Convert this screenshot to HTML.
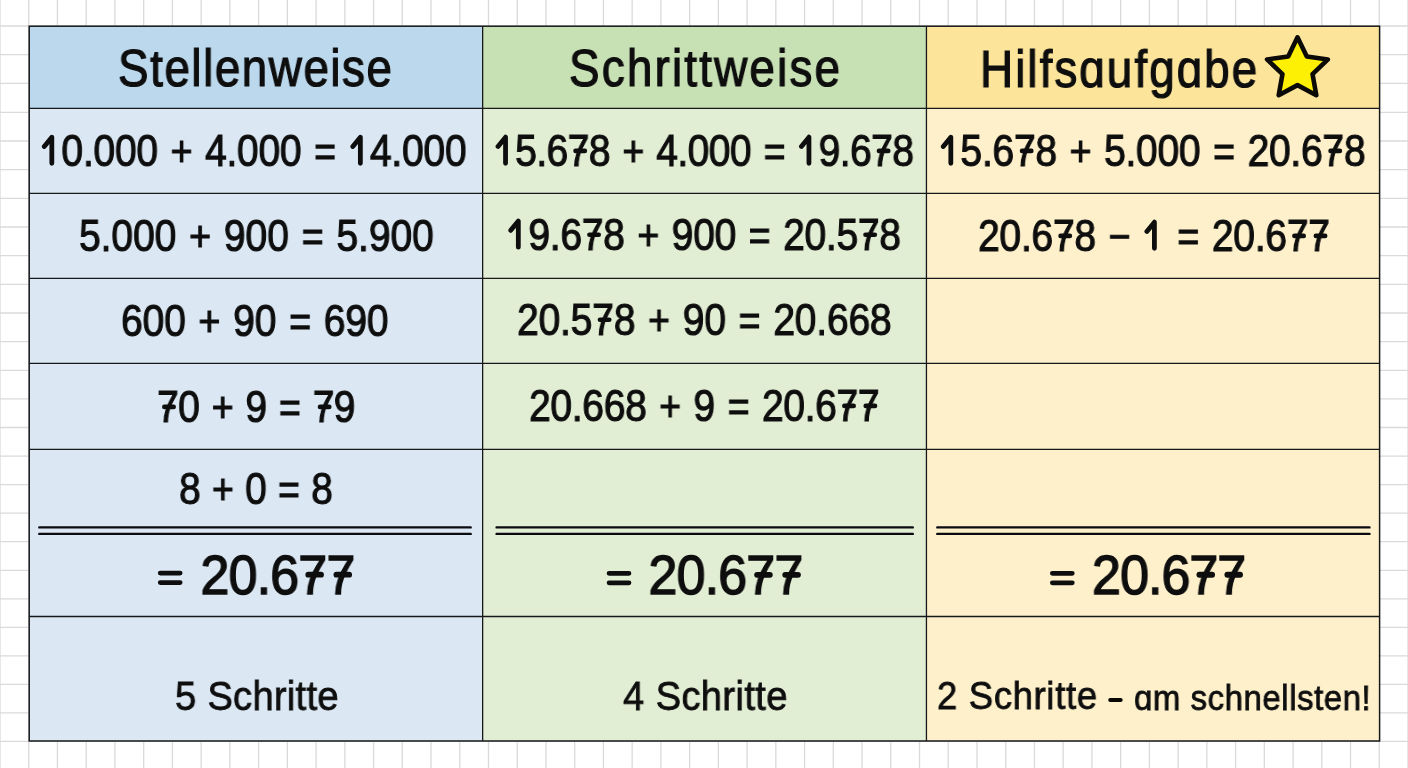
<!DOCTYPE html>
<html><head><meta charset="utf-8"><title>Rechenwege</title>
<style>
html,body{margin:0;padding:0;width:1408px;height:768px;overflow:hidden;background:#fff}
.t{position:absolute;white-space:nowrap;font-family:"Liberation Sans",sans-serif;line-height:1;color:#0e0e0e;transform-origin:0 0;will-change:transform}
.h{color:transparent;-webkit-text-stroke-color:transparent}
</style></head><body>
<svg width="1408" height="768" viewBox="0 0 1408 768" style="position:absolute;left:0;top:0">
<path d="M0.00 0V768 M28.73 0V768 M57.47 0V768 M86.20 0V768 M114.94 0V768 M143.67 0V768 M172.41 0V768 M201.14 0V768 M229.88 0V768 M258.61 0V768 M287.35 0V768 M316.08 0V768 M344.82 0V768 M373.55 0V768 M402.29 0V768 M431.02 0V768 M459.76 0V768 M488.49 0V768 M517.22 0V768 M545.96 0V768 M574.69 0V768 M603.43 0V768 M632.16 0V768 M660.90 0V768 M689.63 0V768 M718.37 0V768 M747.10 0V768 M775.84 0V768 M804.57 0V768 M833.31 0V768 M862.04 0V768 M890.78 0V768 M919.51 0V768 M948.24 0V768 M976.98 0V768 M1005.71 0V768 M1034.45 0V768 M1063.18 0V768 M1091.92 0V768 M1120.65 0V768 M1149.39 0V768 M1178.12 0V768 M1206.86 0V768 M1235.59 0V768 M1264.33 0V768 M1293.06 0V768 M1321.80 0V768 M1350.53 0V768 M1379.27 0V768 M1408.00 0V768 M0 26.00H1408 M0 54.70H1408 M0 83.30H1408 M0 112.30H1408 M0 141.00H1408 M0 169.60H1408 M0 198.30H1408 M0 227.00H1408 M0 255.70H1408 M0 284.40H1408 M0 313.00H1408 M0 341.70H1408 M0 370.30H1408 M0 398.90H1408 M0 427.50H1408 M0 456.20H1408 M0 484.70H1408 M0 513.10H1408 M0 541.70H1408 M0 570.30H1408 M0 598.90H1408 M0 627.40H1408 M0 655.90H1408 M0 684.40H1408 M0 712.80H1408 M0 741.30H1408" stroke="#dadada" stroke-width="1.3" fill="none"/>
<rect x="29.2" y="26.2" width="453.45" height="82.14999999999999" fill="#bcd8ed"/>
<rect x="482.65" y="26.2" width="443.80000000000007" height="82.14999999999999" fill="#c7e0b4"/>
<rect x="926.45" y="26.2" width="453.14999999999986" height="82.14999999999999" fill="#fce59b"/>
<rect x="29.2" y="108.35" width="453.45" height="632.65" fill="#dbe8f4"/>
<rect x="482.65" y="108.35" width="443.80000000000007" height="632.65" fill="#e2eed4"/>
<rect x="926.45" y="108.35" width="453.14999999999986" height="632.65" fill="#fdf0cb"/>
<path d="M29.2 108.35H1379.6 M29.2 193.4H1379.6 M29.2 278.4H1379.6 M29.2 363.45H1379.6 M29.2 449.3H1379.6 M29.2 616.5H1379.6 M482.65 26.2V741.0 M926.45 26.2V741.0" stroke="#16181a" stroke-width="1.3" fill="none"/>
<rect x="29.2" y="26.2" width="1350.3999999999999" height="714.8" fill="none" stroke="#16181a" stroke-width="1.5"/>
<path d="M39.3 527.4H470.7M39.3 533.9H470.7 M496.6 527.4H912.8M496.6 533.9H912.8 M937.3 527.4H1369.5M937.3 533.9H1369.5" stroke="#0a0a10" stroke-width="2.4" stroke-linecap="round" fill="none"/>
<path d="M1110.2 699.9H1120.7" stroke="#0a0806" stroke-width="4" stroke-linecap="round"/>
<g stroke="#0e0e0e" stroke-linecap="round" fill="none"><path d="M575.58 150.88H584.80" stroke-width="4.7"/><path d="M878.99 150.88H888.21" stroke-width="4.7"/><path d="M1022.07 150.90H1031.29" stroke-width="4.7"/><path d="M1330.60 150.90H1339.82" stroke-width="4.7"/><path d="M589.46 234.74H598.68" stroke-width="4.7"/><path d="M865.54 234.74H874.76" stroke-width="4.7"/><path d="M1060.60 235.88H1069.82" stroke-width="4.7"/><path d="M1294.44 235.88H1303.66" stroke-width="4.7"/><path d="M1315.89 235.88H1325.11" stroke-width="4.7"/><path d="M599.98 319.74H609.21" stroke-width="4.7"/><path d="M164.40 406.93H173.63" stroke-width="4.7"/><path d="M320.04 406.93H329.26" stroke-width="4.7"/><path d="M844.39 405.88H853.62" stroke-width="4.7"/><path d="M865.77 405.88H874.99" stroke-width="4.7"/><path d="M308.28 574.71H321.04" stroke-width="5.8"/><path d="M336.42 574.71H349.17" stroke-width="5.8"/><path d="M757.10 574.78H769.85" stroke-width="5.8"/><path d="M785.23 574.78H797.98" stroke-width="5.8"/><path d="M1199.38 574.75H1212.13" stroke-width="5.8"/><path d="M1227.33 574.75H1240.09" stroke-width="5.8"/></g>
<path d="M44.28 146.52L51.82 137.17V163.33 M352.82 146.52L360.36 137.17V163.33 M498.00 146.50L505.54 137.16V163.31 M801.41 146.50L808.95 137.16V163.31 M943.28 146.52L950.82 137.17V163.33 M510.78 230.36L518.32 221.01V247.17 M1146.87 231.50L1154.41 222.16V248.31" stroke="#0e0e0e" stroke-width="4.8" stroke-linecap="round" stroke-linejoin="round" fill="none"/>
<path d="M160.25 573.10H180.15 M160.25 582.60H180.15 M609.07 573.30H628.97 M609.07 582.80H628.97 M1052.36 573.30H1072.26 M1052.36 582.80H1072.26" stroke="#0e0e0e" stroke-width="4.8" stroke-linecap="round" fill="none"/>
<polygon points="1297.50,37.30 1306.79,56.52 1327.93,59.41 1312.53,74.18 1316.31,95.19 1297.50,85.10 1278.69,95.19 1282.47,74.18 1267.07,59.41 1288.21,56.52" fill="#fdf005" stroke="#0c0a06" stroke-width="4.6" stroke-linejoin="round"/>
</svg>
<div class="t" id="h1" style="left:117.80px;top:41.65px;font-size:52.08px;letter-spacing:1.723px;transform:scale(0.8800,1);-webkit-text-stroke:1.2px #0e0e0e;">Stellenweise</div>
<div class="t" id="h2" style="left:568.66px;top:41.64px;font-size:52.08px;letter-spacing:2.480px;transform:scale(0.8800,1);-webkit-text-stroke:1.2px #0e0e0e;">Schrittweise</div>
<div class="t" id="h3" style="left:980.12px;top:42.67px;font-size:52.08px;letter-spacing:2.314px;transform:scale(0.8800,1);-webkit-text-stroke:1.2px #0e0e0e;">Hilfsɑufɡɑbe</div>
<div class="t" id="r1c1" style="left:40.31px;top:128.68px;font-size:43.89px;letter-spacing:-0.314px;word-spacing:2.50px;transform:scale(0.8900,1);-webkit-text-stroke:1.1px #0e0e0e;"><span class="h">1</span>0.000 <span class="o" style="font-size:42.14px">+</span> 4.000 <span class="o" style="font-size:42.14px">=</span> <span class="h">1</span>4.000</div>
<div class="t" id="r1c2" style="left:494.03px;top:128.66px;font-size:43.89px;letter-spacing:-0.652px;word-spacing:2.50px;transform:scale(0.8900,1);-webkit-text-stroke:1.1px #0e0e0e;"><span class="h">1</span>5.678 <span class="o" style="font-size:42.14px">+</span> 4.000 <span class="o" style="font-size:42.14px">=</span> <span class="h">1</span>9.678</div>
<div class="t" id="r1c3" style="left:939.31px;top:128.68px;font-size:43.89px;letter-spacing:-0.313px;word-spacing:2.50px;transform:scale(0.8900,1);-webkit-text-stroke:1.1px #0e0e0e;"><span class="h">1</span>5.678 <span class="o" style="font-size:42.14px">+</span> 5.000 <span class="o" style="font-size:42.14px">=</span> 20.678</div>
<div class="t" id="r2c1" style="left:78.52px;top:213.67px;font-size:43.89px;letter-spacing:-0.119px;word-spacing:2.50px;transform:scale(0.8900,1);-webkit-text-stroke:1.1px #0e0e0e;">5.000 <span class="o" style="font-size:42.14px">+</span> 900 <span class="o" style="font-size:42.14px">=</span> 5.900</div>
<div class="t" id="r2c2" style="left:506.80px;top:212.52px;font-size:43.89px;letter-spacing:-0.345px;word-spacing:2.50px;transform:scale(0.8900,1);-webkit-text-stroke:1.1px #0e0e0e;"><span class="h">1</span>9.678 <span class="o" style="font-size:42.14px">+</span> 900 <span class="o" style="font-size:42.14px">=</span> 20.578</div>
<div class="t" id="r2c3" style="left:977.78px;top:213.67px;font-size:43.89px;letter-spacing:-0.297px;word-spacing:2.50px;transform:scale(0.8900,1);-webkit-text-stroke:1.1px #0e0e0e;">20.678 <span class="o" style="font-size:42.14px">−</span> <span class="h">1</span> <span class="o" style="font-size:42.14px">=</span> 20.677</div>
<div class="t" id="r3c1" style="left:121.28px;top:298.50px;font-size:43.89px;letter-spacing:-0.200px;word-spacing:2.50px;transform:scale(0.8900,1);-webkit-text-stroke:1.1px #0e0e0e;">600 <span class="o" style="font-size:42.14px">+</span> 90 <span class="o" style="font-size:42.14px">=</span> 690</div>
<div class="t" id="r3c2" style="left:516.90px;top:297.52px;font-size:43.89px;letter-spacing:-0.222px;word-spacing:2.50px;transform:scale(0.8900,1);-webkit-text-stroke:1.1px #0e0e0e;">20.578 <span class="o" style="font-size:42.14px">+</span> 90 <span class="o" style="font-size:42.14px">=</span> 20.668</div>
<div class="t" id="r4c1" style="left:156.53px;top:384.71px;font-size:43.89px;letter-spacing:-0.701px;word-spacing:2.50px;transform:scale(0.8900,1);-webkit-text-stroke:1.1px #0e0e0e;">70 <span class="o" style="font-size:42.14px">+</span> 9 <span class="o" style="font-size:42.14px">=</span> 79</div>
<div class="t" id="r4c2" style="left:528.98px;top:383.66px;font-size:43.89px;letter-spacing:-0.379px;word-spacing:2.50px;transform:scale(0.8900,1);-webkit-text-stroke:1.1px #0e0e0e;">20.668 <span class="o" style="font-size:42.14px">+</span> 9 <span class="o" style="font-size:42.14px">=</span> 20.677</div>
<div class="t" id="r5c1" style="left:178.88px;top:466.52px;font-size:43.89px;letter-spacing:-1.049px;word-spacing:2.50px;transform:scale(0.8900,1);-webkit-text-stroke:1.1px #0e0e0e;">8 <span class="o" style="font-size:42.14px">+</span> 0 <span class="o" style="font-size:42.14px">=</span> 8</div>
<div class="t" id="res1" style="left:155.61px;top:546.54px;font-size:55.98px;letter-spacing:-0.876px;word-spacing:2.50px;transform:scale(0.9300,1);-webkit-text-stroke:1.4px #0e0e0e;"><span class="o h" style="font-size:53.74px">=</span> 20.677</div>
<div class="t" id="res2" style="left:604.43px;top:546.62px;font-size:55.98px;letter-spacing:-0.877px;word-spacing:2.50px;transform:scale(0.9300,1);-webkit-text-stroke:1.4px #0e0e0e;"><span class="o h" style="font-size:53.74px">=</span> 20.677</div>
<div class="t" id="res3" style="left:1047.73px;top:546.58px;font-size:55.98px;letter-spacing:-1.058px;word-spacing:2.50px;transform:scale(0.9300,1);-webkit-text-stroke:1.4px #0e0e0e;"><span class="o h" style="font-size:53.74px">=</span> 20.677</div>
<div class="t" id="f1" style="left:174.74px;top:674.73px;font-size:41.48px;letter-spacing:0.287px;transform:scale(0.9200,1);-webkit-text-stroke:0.8px #0e0e0e;">5 Schritte</div>
<div class="t" id="f2" style="left:622.51px;top:674.73px;font-size:41.48px;letter-spacing:0.404px;transform:scale(0.9200,1);-webkit-text-stroke:0.8px #0e0e0e;">4 Schritte</div>
<div class="t" id="f3a" style="left:936.67px;top:675.63px;font-size:39.62px;letter-spacing:0.733px;transform:scale(0.9200,1);-webkit-text-stroke:0.8px #0e0e0e;">2 Schritte</div>
<div class="t" id="f3b" style="left:1133.62px;top:680.55px;font-size:35.89px;letter-spacing:0.572px;transform:scale(0.9200,1);-webkit-text-stroke:0.8px #0e0e0e;">ɑm schnellsten!</div>
</body></html>
